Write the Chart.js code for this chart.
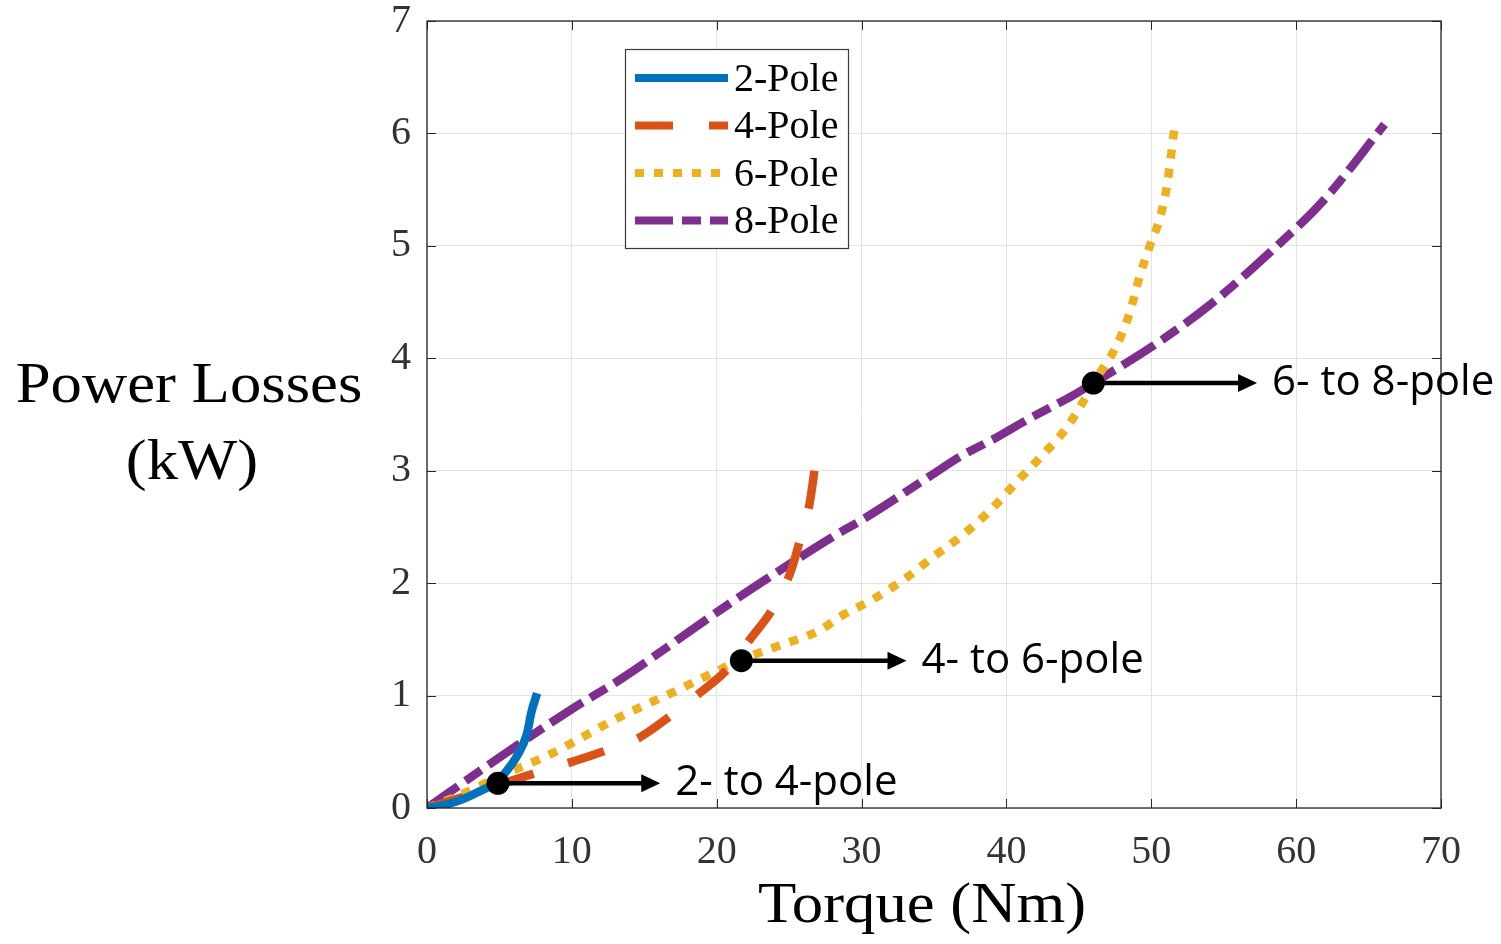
<!DOCTYPE html>
<html>
<head>
<meta charset="utf-8">
<script src="https://cdn.jsdelivr.net/npm/chart.js@4.4.1/dist/chart.umd.min.js"></script>
<style>
html,body{margin:0;padding:0;background:#fff;}
#wrap{width:1501px;height:944px;position:relative;}
</style>
</head>
<body>
<div id="wrap"><canvas id="c" width="1501" height="944"></canvas></div>
<script>
// ---- data ----
const seriesNames = ['2-Pole', '4-Pole', '6-Pole', '8-Pole'];

const pole2Torque = [0, 1, 2.3, 3.5, 4.9, 5.5, 6.2, 6.9, 7.2, 7.6];
const pole2Loss   = [0, 0.02, 0.07, 0.14, 0.24, 0.33, 0.46, 0.66, 0.85, 1.02];

const pole4Torque = [0, 2, 4, 6, 8, 10, 12.1, 14.7, 16.6, 18.8, 20.7, 22.3, 23.9, 25.1, 25.7, 26.4, 26.8];
const pole4Loss   = [0, 0.08, 0.16, 0.25, 0.33, 0.41, 0.5, 0.63, 0.8, 1.02, 1.23, 1.5, 1.78, 2.1, 2.36, 2.7, 3.05];

const pole6Torque = [0, 2, 5, 8.7, 13.3, 17, 20.2, 21.7, 24, 27.1, 28.5, 30.7, 32.9, 34.9, 37, 38.9, 40.7, 42.5, 44.2, 45.5, 46, 47.6, 48.5, 49.2, 49.9, 50.6, 51.1, 51.6];
const pole6Loss   = [0, 0.1, 0.28, 0.49, 0.81, 1.03, 1.23, 1.32, 1.43, 1.58, 1.7, 1.85, 2.03, 2.23, 2.43, 2.65, 2.9, 3.14, 3.39, 3.66, 3.78, 4.11, 4.4, 4.73, 5.0, 5.25, 5.55, 6.05];

const pole8Torque = [0, 5, 10, 13.3, 20, 23, 28.5, 30, 34.7, 37, 39.1, 41.4, 43, 44.6, 46, 50, 54, 58, 62, 66.1];
const pole8Loss   = [0, 0.45, 0.88, 1.14, 1.74, 2.0, 2.45, 2.56, 2.95, 3.14, 3.28, 3.45, 3.56, 3.67, 3.78, 4.1, 4.47, 4.92, 5.42, 6.08];

const xTicks = [0, 10, 20, 30, 40, 50, 60, 70];
const yTicks = [0, 1, 2, 3, 4, 5, 6, 7];

const switchLabels = ['2- to 4-pole', '4- to 6-pole', '6- to 8-pole'];
const switchTorque = [4.9, 21.7, 46.0];
const switchLoss   = [0.22, 1.31, 3.78];
const arrowEndTorque = [16.1, 33.1, 57.3];

const xTitle = 'Torque (Nm)';
const yTitleLines = ['Power Losses', '(kW)'];

// ---- build ----
function pts(xs, ys) { return xs.map((x, i) => ({x: x, y: ys[i]})); }

const colors = ['#0072BD', '#D95319', '#EDB120', '#7E2F8E'];
const dashes = [[], [38, 36], [9, 10], [38, 9, 19, 9]];
const allX = [pole2Torque, pole4Torque, pole6Torque, pole8Torque];
const allY = [pole2Loss, pole4Loss, pole6Loss, pole8Loss];

const datasets = seriesNames.map((n, i) => ({
  label: n,
  data: pts(allX[i], allY[i]),
  borderColor: colors[i],
  backgroundColor: colors[i],
  borderWidth: 8.5,
  borderDash: dashes[i],
  borderCapStyle: 'butt',
  borderJoinStyle: 'round',
  pointRadius: 0,
  fill: false,
  cubicInterpolationMode: 'monotone'
}));

const AXIS = '#262626';
const TICKFONT = '"Liberation Serif", "Times New Roman", serif';

const overlay = {
  id: 'overlay',
  beforeDraw(chart) {
    const ctx = chart.ctx;
    ctx.save();
    ctx.fillStyle = '#fff';
    ctx.fillRect(0, 0, chart.width, chart.height);
    ctx.restore();
  },
  afterDatasetsDraw(chart) {
    const ctx = chart.ctx;
    const a = chart.chartArea;
    const xs = chart.scales.x, ys = chart.scales.y;
    ctx.save();
    // box
    ctx.strokeStyle = AXIS;
    ctx.lineWidth = 1.3;
    ctx.strokeRect(a.left, a.top, a.right - a.left, a.bottom - a.top);
    // inner ticks
    const tl = 9;
    ctx.beginPath();
    xTicks.forEach(v => {
      const px = Math.round(xs.getPixelForValue(v)) + 0.5;
      ctx.moveTo(px, a.bottom); ctx.lineTo(px, a.bottom - tl);
      ctx.moveTo(px, a.top); ctx.lineTo(px, a.top + tl);
    });
    yTicks.forEach(v => {
      const py = Math.round(ys.getPixelForValue(v)) + 0.5;
      ctx.moveTo(a.left, py); ctx.lineTo(a.left + tl, py);
      ctx.moveTo(a.right, py); ctx.lineTo(a.right - tl, py);
    });
    ctx.lineWidth = 1;
    ctx.stroke();

    // legend
    const L = {x: 625, y: 49, w: 223, h: 199};
    ctx.fillStyle = '#fff';
    ctx.fillRect(L.x, L.y, L.w, L.h);
    ctx.strokeStyle = '#3a3a3a';
    ctx.lineWidth = 1.2;
    ctx.strokeRect(L.x + 0.5, L.y + 0.5, L.w, L.h);
    chart.data.datasets.forEach((ds, i) => {
      const yy = 78 + i * 47.5;
      ctx.beginPath();
      ctx.setLineDash(ds.borderDash);
      ctx.lineDashOffset = 0;
      ctx.lineCap = 'butt';
      ctx.strokeStyle = ds.borderColor;
      ctx.lineWidth = 8;
      ctx.moveTo(635, yy); ctx.lineTo(728, yy);
      ctx.stroke();
      ctx.setLineDash([]);
      ctx.fillStyle = '#000';
      ctx.font = '40px ' + TICKFONT;
      ctx.textAlign = 'left';
      ctx.textBaseline = 'middle';
      ctx.fillText(ds.label, 734, yy + 2);
    });

    // switching points, arrows, labels
    switchLabels.forEach((lab, i) => {
      const px = xs.getPixelForValue(switchTorque[i]);
      const py = ys.getPixelForValue(switchLoss[i]);
      const tip = xs.getPixelForValue(arrowEndTorque[i]);
      ctx.strokeStyle = '#000';
      ctx.fillStyle = '#000';
      ctx.lineWidth = 4.5;
      ctx.beginPath();
      ctx.moveTo(px, py); ctx.lineTo(tip - 16, py);
      ctx.stroke();
      ctx.beginPath();
      ctx.moveTo(tip, py);
      ctx.lineTo(tip - 19, py - 9);
      ctx.lineTo(tip - 19, py + 9);
      ctx.closePath();
      ctx.fill();
      ctx.beginPath();
      ctx.arc(px, py, 11.5, 0, Math.PI * 2);
      ctx.fill();
      ctx.font = '42px "Open Sans", "Noto Sans", sans-serif';
      ctx.textAlign = 'left';
      ctx.textBaseline = 'middle';
      ctx.fillText(lab, tip + 15, py);
    });

    // axis titles
    ctx.fillStyle = '#000';
    ctx.font = '57px ' + TICKFONT;
    ctx.textAlign = 'center';
    ctx.textBaseline = 'alphabetic';
    const drawStretched = (t, cx, by) => {
      ctx.save();
      ctx.translate(cx, by);
      ctx.scale(1.1, 1);
      ctx.fillText(t, 0, 0);
      ctx.restore();
    };
    drawStretched(yTitleLines[0], 189, 402);
    drawStretched(yTitleLines[1], 192, 479);
    drawStretched(xTitle, (a.left + a.right) / 2 - 12, 922);
    ctx.restore();
  }
};

new Chart(document.getElementById('c'), {
  type: 'line',
  data: { datasets: datasets },
  options: {
    responsive: false,
    animation: false,
    devicePixelRatio: 1,
    layout: { padding: { left: 0, right: 60, top: 21, bottom: 0 } },
    plugins: { legend: { display: false }, tooltip: { enabled: false } },
    scales: {
      x: {
        type: 'linear', min: 0, max: 70,
        afterFit(s) { s.height = 136; s.paddingLeft = 0; s.paddingRight = 0; },
        afterBuildTicks(s) { s.ticks = xTicks.map(v => ({value: v})); },
        grid: { color: '#e2e2e2', lineWidth: 1, drawTicks: false },
        border: { display: false },
        ticks: { color: '#333', font: { family: TICKFONT, size: 40 }, padding: 20, maxRotation: 0, autoSkip: false }
      },
      y: {
        type: 'linear', min: 0, max: 7,
        afterFit(s) { s.width = 427; s.paddingTop = 0; s.paddingBottom = 0; },
        afterBuildTicks(s) { s.ticks = yTicks.map(v => ({value: v})); },
        grid: { color: '#e2e2e2', lineWidth: 1, drawTicks: false },
        border: { display: false },
        ticks: { color: '#333', font: { family: TICKFONT, size: 40 }, padding: 16, autoSkip: false }
      }
    }
  },
  plugins: [overlay]
});
</script>
</body>
</html>
